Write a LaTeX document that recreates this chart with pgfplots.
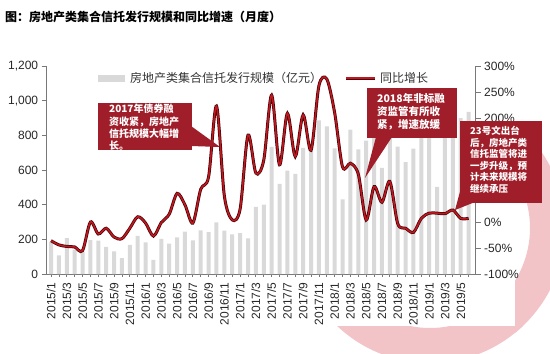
\documentclass[border=0pt]{standalone}
\usepackage{fontspec}
\setmainfont{Liberation Sans}
\newfontfamily\cjk{Noto Sans CJK SC}
\usepackage{pgfplots}
\pgfplotsset{compat=1.18}
\definecolor{barg}{RGB}{217,217,217}
\definecolor{boxred}{RGB}{160,30,42}
\definecolor{linered}{RGB}{196,22,30}
\definecolor{linedark}{RGB}{70,8,10}
\definecolor{axgray}{RGB}{120,120,120}
\definecolor{wm}{RGB}{242,196,200}
\begin{document}
\begin{tikzpicture}
\path[use as bounding box] (0,0) rectangle (550pt,-354pt);
% faint logo watermark
\begin{scope}
\clip (515pt,-150pt) rectangle (550pt,-354pt);
\fill[wm, even odd rule] (430pt,-228pt) circle (135pt) circle (100pt);
\end{scope}
\begin{scope}
\clip (330pt,-326pt) rectangle (550pt,-354pt);
\fill[wm, even odd rule] (430pt,-228pt) circle (135pt) circle (100pt);
\end{scope}
% bars, left axis
\begin{axis}[
  at={(46.7pt,-274pt)}, anchor=south west,
  scale only axis, width=429pt, height=208pt,
  xmin=-0.55, xmax=53.9, ymin=0, ymax=1200,
  axis y line*=left, axis x line*=bottom,
  axis line style={axgray, line width=0.8pt},
  tick align=outside,
  major tick length=5pt,
  ytick={0,200,...,1200},
  yticklabels={0,200,400,600,800,{1,000},{1,200}},
  y tick label style={font=\fontsize{12}{14}\selectfont, text=black!85},
  ytick style={axgray, line width=0.8pt},
  xtick={0,...,53},
  xticklabels={2015/1,,2015/3,,2015/5,,2015/7,,2015/9,,2015/11,,2016/1,,2016/3,,2016/5,,2016/7,,2016/9,,2016/11,,2017/1,,2017/3,,2017/5,,2017/7,,2017/9,,2017/11,,2018/1,,2018/3,,2018/5,,2018/7,,2018/9,,2018/11,,2019/1,,2019/3,,2019/5,},
  xtick style={axgray, line width=0.8pt, yshift=2.5pt},
  x tick label style={rotate=90, anchor=east, font=\fontsize{12}{14}\selectfont, text=black!85},
  clip=false,
]
\addplot[ybar, bar width=4pt, fill=barg, draw=none] coordinates {
(0,185) (1,108) (2,207) (3,140) (4,128) (5,196) (6,192) (7,156) (8,130) (9,92)
(10,168) (11,220) (12,183) (13,82) (14,202) (15,175) (16,211) (17,244) (18,194) (19,251)
(20,241) (21,298) (22,250) (23,228) (24,236) (25,206) (26,388) (27,400) (28,733) (29,520)
(30,597) (31,577) (32,728) (33,712) (34,886) (35,852) (36,725) (37,431) (38,833) (39,719)
(40,769) (41,800) (42,612) (43,840) (44,735) (45,645) (46,723) (47,880) (48,900) (49,502)
(50,860) (51,880) (52,900) (53,936)
};
\end{axis}
% growth line, right axis
\begin{axis}[
  at={(46.7pt,-274pt)}, anchor=south west,
  scale only axis, width=429pt, height=208pt,
  xmin=-0.55, xmax=53.9, ymin=-100, ymax=300,
  axis y line*=right, axis x line=none,
  axis line style={axgray, line width=0.8pt},
  tick align=outside,
  major tick length=5pt,
  ytick={-100,-50,...,300},
  yticklabels={-100\%,-50\%,0\%,50\%,100\%,150\%,200\%,250\%,300\%},
  y tick label style={font=\fontsize{12}{14}\selectfont, text=black!85},
  ytick style={axgray, line width=0.8pt},
  clip=false,
]
\pgfplotstableread{
x y
0 -36
1 -44
2 -47
3 -48
4 -55
5 0
6 -23
7 -12
8 -29
9 -32
10 -12
11 10
12 -2
13 -27
14 -1
15 15
16 55
17 33
18 -2
19 63
20 87
21 223
22 50
23 4
24 25
25 167
26 94
27 119
28 244
29 110
30 209
31 126
32 206
33 138
34 262
35 275
36 210
37 106
38 113
39 92
40 4
41 68
42 38
43 78
44 -3
45 -12
46 -20
47 7
48 17
49 17
50 16
51 23
52 7
53 7
}\growth
\addplot[smooth, tension=0.5, linedark, line width=3pt] table {\growth};
\addplot[smooth, tension=0.5, linered, line width=1.5pt] table {\growth};
\end{axis}
% title
\node[anchor=west, font=\cjk\bfseries\fontsize{12}{14}\selectfont, inner sep=0] at (5pt,-17pt) {图：房地产类集合信托发行规模和同比增速（月度）};
% legend
\fill[barg] (98pt,-74.5pt) rectangle (125pt,-81.5pt);
\node[anchor=west, font=\cjk\fontsize{12}{14}\selectfont, text=black!80, inner sep=0] at (130pt,-78pt) {房地产类集合信托发行规模（亿元）};
\draw[linedark, line width=3pt] (346pt,-78pt) -- (375pt,-78pt);
\draw[linered, line width=1.5pt] (346pt,-78pt) -- (375pt,-78pt);
\node[anchor=west, font=\cjk\fontsize{12}{14}\selectfont, text=black!80, inner sep=0] at (380pt,-78pt) {同比增长};
% annotation 1
\fill[boxred] (98pt,-103pt) rectangle (192pt,-150pt);
\fill[boxred] (191pt,-126pt) -- (220pt,-147pt) -- (191pt,-146pt) -- cycle;
\node[anchor=north west, align=left, text=white, font=\cjk\bfseries\fontsize{10}{12.2}\selectfont, inner sep=0] at (109pt,-104pt) {2017年债券融\\资收紧，房地产\\信托规模大幅增\\长。};
% annotation 2
\fill[boxred] (367pt,-88pt) rectangle (457pt,-138pt);
\fill[boxred] (376pt,-137pt) -- (392pt,-137pt) -- (365pt,-178pt) -- cycle;
\node[anchor=north west, align=left, text=white, font=\cjk\bfseries\fontsize{10.5}{13}\selectfont, inner sep=0] at (377pt,-93pt) {2018年非标融\\资监管有所收\\紧，增速放缓};
% annotation 3
\fill[boxred] (460pt,-121pt) rectangle (542pt,-203pt);
\fill[boxred] (461pt,-188pt) -- (475pt,-202pt) -- (455pt,-210pt) -- cycle;
\node[anchor=north west, align=left, text=white, font=\cjk\bfseries\fontsize{9.5}{11.5}\selectfont, inner sep=0] at (470pt,-126pt) {23号文出台\\后，房地产类\\信托监管将进\\一步升级，预\\计未来规模将\\继续承压};
\end{tikzpicture}
\end{document}
